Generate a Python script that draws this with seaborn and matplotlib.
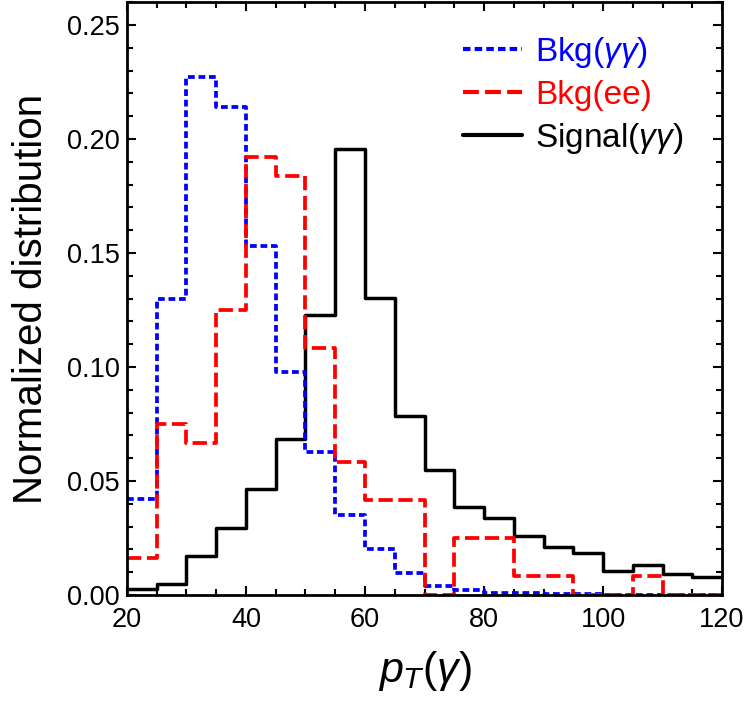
import numpy as np
import pandas as pd
import seaborn as sns
import matplotlib.pyplot as plt
from matplotlib.lines import Line2D
from matplotlib.ticker import MultipleLocator

# bin centres for p_T, 5 wide from 20 to 120
centers = np.arange(22.5, 120, 5)

# normalized distributions
bkg_gg = [0.042, 0.130, 0.227, 0.214, 0.153, 0.098, 0.0625, 0.035, 0.020, 0.0098,
          0.004, 0.002, 0.001, 0.0008, 0.0005, 0.0003, 0.0, 0.0, 0.0, 0.0]
bkg_ee = [0.0163, 0.075, 0.0666, 0.125, 0.192, 0.1836, 0.1083, 0.0582, 0.0416, 0.0416,
          0.0, 0.0251, 0.0251, 0.0083, 0.0083, 0.0, 0.0, 0.0083, 0.0, 0.0]
signal = [0.0028, 0.005, 0.0171, 0.0295, 0.0466, 0.0683, 0.1226, 0.1958, 0.1303, 0.0787,
          0.0547, 0.0384, 0.0339, 0.0261, 0.0209, 0.0185, 0.0106, 0.013, 0.0092, 0.0077]

labels = ["Bkg($\\gamma\\gamma$)", "Bkg(ee)", "Signal($\\gamma\\gamma$)"]
colors = ["#0000ff", "#ff0000", "#000000"]
styles = [(0, (1.8, 1.0)), (0, (3.8, 1.5)), "-"]

sns.set_style("ticks")
plt.rcParams['font.family'] = ['Liberation Sans', 'DejaVu Sans']
plt.rcParams['mathtext.fontset'] = 'custom'
plt.rcParams['mathtext.it'] = 'Liberation Sans:italic'
plt.rcParams['mathtext.rm'] = 'Liberation Sans'

fig = plt.figure(figsize=(7.5, 7.03), dpi=100)
ax = fig.add_axes([0.1693, 0.1536, 0.7934, 0.8434])

# black first, then blue, red on top (as in the reference)
series = [bkg_gg, bkg_ee, signal]
for i in [2, 0, 1]:
    df = pd.DataFrame({"pt": centers, "w": series[i]})
    sns.histplot(data=df, x="pt", weights="w", binwidth=5, binrange=(20, 120),
                 element="step", fill=False, color=colors[i],
                 linewidth=2.5 if i == 2 else 2.7, linestyle=styles[i], ax=ax)

ax.set_xlim(20, 120)
ax.set_ylim(0, 0.26)
ax.xaxis.set_major_locator(MultipleLocator(20))
ax.xaxis.set_minor_locator(MultipleLocator(5))
ax.yaxis.set_major_locator(MultipleLocator(0.05))
ax.yaxis.set_minor_locator(MultipleLocator(0.01))
ax.yaxis.set_major_formatter(plt.FuncFormatter(lambda v, p: f"{v:.2f}"))
ax.tick_params(which="both", direction="in", top=True, right=True, width=1.5,
               color="black", labelcolor="black")
ax.tick_params(which="major", length=6.5, labelsize=19.5)
ax.tick_params(which="minor", length=4)
ax.tick_params(axis="x", which="major", pad=8.5)
ax.tick_params(axis="y", which="major", pad=5)
for s in ax.spines.values():
    s.set_linewidth(2)
    s.set_color("black")

ax.set_xlabel("$p_T(\\gamma)$", fontsize=31, labelpad=12, color="black")
ax.set_ylabel("Normalized distribution", fontsize=29, labelpad=12, color="black")

handles = [Line2D([], [], color=colors[i], lw=3, linestyle=styles[i]) for i in range(3)]
ax.legend(handles, labels, loc="upper left", frameon=False, fontsize=24,
          handlelength=1.75, handletextpad=0.4, labelspacing=0.3,
          borderpad=0, borderaxespad=0, bbox_to_anchor=(0.565, 0.945),
          labelcolor=colors)

fig.savefig("out.png", dpi=100)
